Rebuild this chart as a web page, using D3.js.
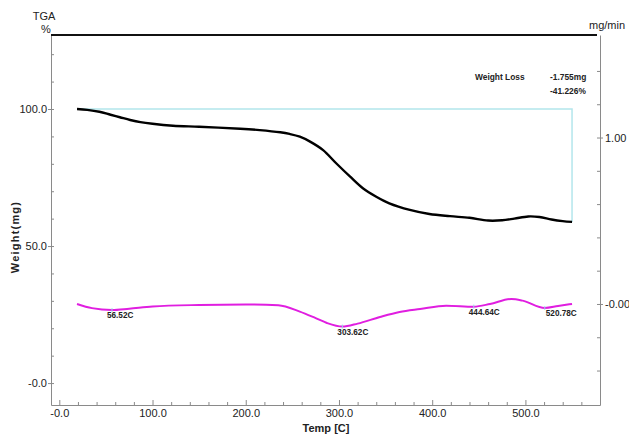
<!DOCTYPE html>
<html>
<head>
<meta charset="utf-8">
<script src="https://cdn.jsdelivr.net/npm/d3@7"></script>
<style>
body { margin: 0; background: #fff; }
svg { display: block; font-family: "Liberation Sans", Arial, sans-serif; }
.tick text { font-size: 11px; fill: #222; }
</style>
</head>
<body>
<svg width="629" height="435"></svg>
<script>
// TGA curve (weight %, left axis)
var tgaTemp   = [19, 30, 43, 55, 65, 76, 87, 100, 122, 150, 194, 215, 237, 247, 258, 269, 283, 297, 312, 326, 340, 354, 376, 397, 419, 440, 460, 475, 488, 503, 515, 528, 540, 550];
var tgaWeight = [100, 99.7, 99.0, 97.9, 97.0, 96.0, 95.2, 94.6, 93.9, 93.5, 92.8, 92.3, 91.5, 90.9, 89.9, 88.1, 85.0, 80.2, 75.3, 71.0, 68.0, 65.6, 63.2, 61.7, 60.9, 60.3, 59.3, 59.4, 60.0, 60.8, 60.6, 59.7, 59.1, 58.8];

// DTG curve (mg/min, right axis)
var dtgTemp = [19, 35, 56.52, 75, 100, 150, 200, 235, 258, 275, 287, 303.62, 320, 344, 365, 387, 415, 444.64, 462, 485, 497, 520.78, 535, 550];
var dtgRate = [0, -0.025, -0.036, -0.028, -0.015, -0.006, -0.003, -0.008, -0.046, -0.085, -0.114, -0.136, -0.118, -0.078, -0.048, -0.030, -0.010, -0.016, 0, 0.03, 0.020, -0.024, -0.012, 0];

var peakTemps = [56.52, 303.62, 444.64, 520.78];

var xMajor = [0, 100, 200, 300, 400, 500];
var yLeftMajor = [0, 50, 100];
var yRightMajor = [0, 1];
var lossTitle = "Weight Loss";
var lossValues = ["-1.755mg", "-41.226%"];

var svg = d3.select("svg");
var pLeft = 51, pRight = 600, pTop = 35, pBottom = 405;

var x = d3.scaleLinear().domain([-8.9, 580]).range([pLeft, pRight]);
var yL = d3.scaleLinear().domain([-8, 127]).range([pBottom, pTop]);
var yR = d3.scaleLinear().domain([-0.607, 1.616]).range([pBottom, pTop]);

var grey = "#8a8a8a";
var fmtNeg = function(dec) {
  return function(d) { return (d === 0 ? "-" : "") + d3.format("." + dec + "f")(d); };
};

// bottom axis, ticks pointing up
svg.append("g").attr("transform", "translate(0," + pBottom + ")")
  .call(d3.axisBottom(x).tickValues(xMajor).tickSize(-5).tickSizeOuter(0).tickPadding(4).tickFormat(fmtNeg(1)));
svg.append("g").attr("transform", "translate(0," + pBottom + ")")
  .call(d3.axisBottom(x).tickValues(d3.range(20, 570, 20).filter(function(d){ return d % 100 != 0; })).tickSize(-3).tickSizeOuter(0).tickFormat(""))
  .select(".domain").remove();

// left axis
var yLAx = svg.append("g").attr("transform", "translate(" + pLeft + ",0)")
  .call(d3.axisLeft(yL).tickValues(yLeftMajor).tickSize(3).tickSizeOuter(0).tickPadding(1).tickFormat(fmtNeg(1)));
yLAx.selectAll(".tick line").attr("x1", 3);
svg.append("g").attr("transform", "translate(" + pLeft + ",0)")
  .call(d3.axisRight(yL).tickValues([10, 20, 30, 40, 60, 70, 80, 90, 110, 120]).tickSize(3).tickSizeOuter(0).tickFormat(""))
  .select(".domain").remove();

// right axis
var yRAx = svg.append("g").attr("transform", "translate(" + pRight + ",0)")
  .call(d3.axisRight(yR).tickValues(yRightMajor).tickSize(3).tickSizeOuter(0).tickPadding(2).tickFormat(fmtNeg(2)));
yRAx.selectAll(".tick line").attr("x1", -3);
svg.append("g").attr("transform", "translate(" + pRight + ",0)")
  .call(d3.axisLeft(yR).tickValues([-0.4, -0.2, 0.2, 0.4, 0.6, 0.8, 1.2, 1.4]).tickSize(3).tickSizeOuter(0).tickFormat(""))
  .select(".domain").remove();

svg.selectAll(".domain, .tick line").attr("stroke", grey);
svg.selectAll(".tick text").attr("fill", "#222").style("font-size", "11px");

// top border
svg.append("line").attr("x1", pLeft).attr("x2", pRight - 3).attr("y1", pTop).attr("y2", pTop)
  .attr("stroke", "#111").attr("stroke-width", 2);

// titles
svg.append("text").attr("x", 44).attr("y", 20).attr("text-anchor", "middle")
  .style("font-size", "11px").attr("fill", "#222").text("TGA");
svg.append("text").attr("x", 46).attr("y", 33).attr("text-anchor", "middle")
  .style("font-size", "11px").attr("fill", "#222").text("%");
svg.append("text").attr("x", 607).attr("y", 29).attr("text-anchor", "middle")
  .style("font-size", "11px").attr("fill", "#222").text("mg/min");
svg.append("text").attr("x", 326).attr("y", 432).attr("text-anchor", "middle")
  .style("font-size", "11px").style("font-weight", "bold").attr("fill", "#222").text("Temp  [C]");
svg.append("text").attr("transform", "translate(19,237) rotate(-90)").attr("text-anchor", "middle")
  .style("font-size", "11px").style("font-weight", "bold").style("letter-spacing", "1.2px").attr("fill", "#222").text("Weight(mg)");

// weight loss box
var n = tgaTemp.length - 1;
svg.append("path")
  .attr("d", "M" + x(tgaTemp[0]) + "," + yL(tgaWeight[0]) + "H" + x(tgaTemp[n]) + "V" + yL(tgaWeight[n]))
  .attr("fill", "none").attr("stroke", "#b3e6ec").attr("stroke-width", 1.5);

svg.append("text").attr("x", 475).attr("y", 80).style("font-size", "8.4px").style("font-weight", "bold")
  .attr("fill", "#222").text(lossTitle);
svg.selectAll(".lossv").data(lossValues).enter().append("text").attr("class", "lossv")
  .attr("x", 550).attr("y", function(d, i) { return 80 + i * 13.5; })
  .style("font-size", "8.4px").style("font-weight", "bold").attr("fill", "#222").text(function(d) { return d; });

// curves
var tga = tgaTemp.map(function(t, i) { return [t, tgaWeight[i]]; });
var dtg = dtgTemp.map(function(t, i) { return [t, dtgRate[i]]; });

svg.append("path").datum(dtg)
  .attr("d", d3.line().x(function(d) { return x(d[0]); }).y(function(d) { return yR(d[1]); }).curve(d3.curveMonotoneX))
  .attr("fill", "none").attr("stroke", "#e01ee0").attr("stroke-width", 2);

svg.append("path").datum(tga)
  .attr("d", d3.line().x(function(d) { return x(d[0]); }).y(function(d) { return yL(d[1]); }).curve(d3.curveCatmullRom.alpha(0.5)))
  .attr("fill", "none").attr("stroke", "#000").attr("stroke-width", 2.4);

// peak markers and labels
var peaks = peakTemps.map(function(t) { return [t, dtgRate[dtgTemp.indexOf(t)]]; });
svg.selectAll(".pk").data(peaks).enter().append("line").attr("class", "pk")
  .attr("x1", function(d) { return x(d[0]); }).attr("x2", function(d) { return x(d[0]); })
  .attr("y1", function(d) { return yR(d[1]) - 2; }).attr("y2", function(d) { return yR(d[1]) + 2; })
  .attr("stroke", "#9adbe6").attr("stroke-width", 1);
svg.selectAll(".pkl").data(peaks).enter().append("text").attr("class", "pkl")
  .attr("x", function(d, i) { return x(d[0]) + (i == 3 ? 1 : -5); })
  .attr("y", function(d) { return yR(d[1]) + 8; })
  .style("font-size", "8.2px").style("font-weight", "bold").attr("fill", "#222")
  .text(function(d) { return d[0].toFixed(2) + "C"; });
</script>
</body>
</html>
